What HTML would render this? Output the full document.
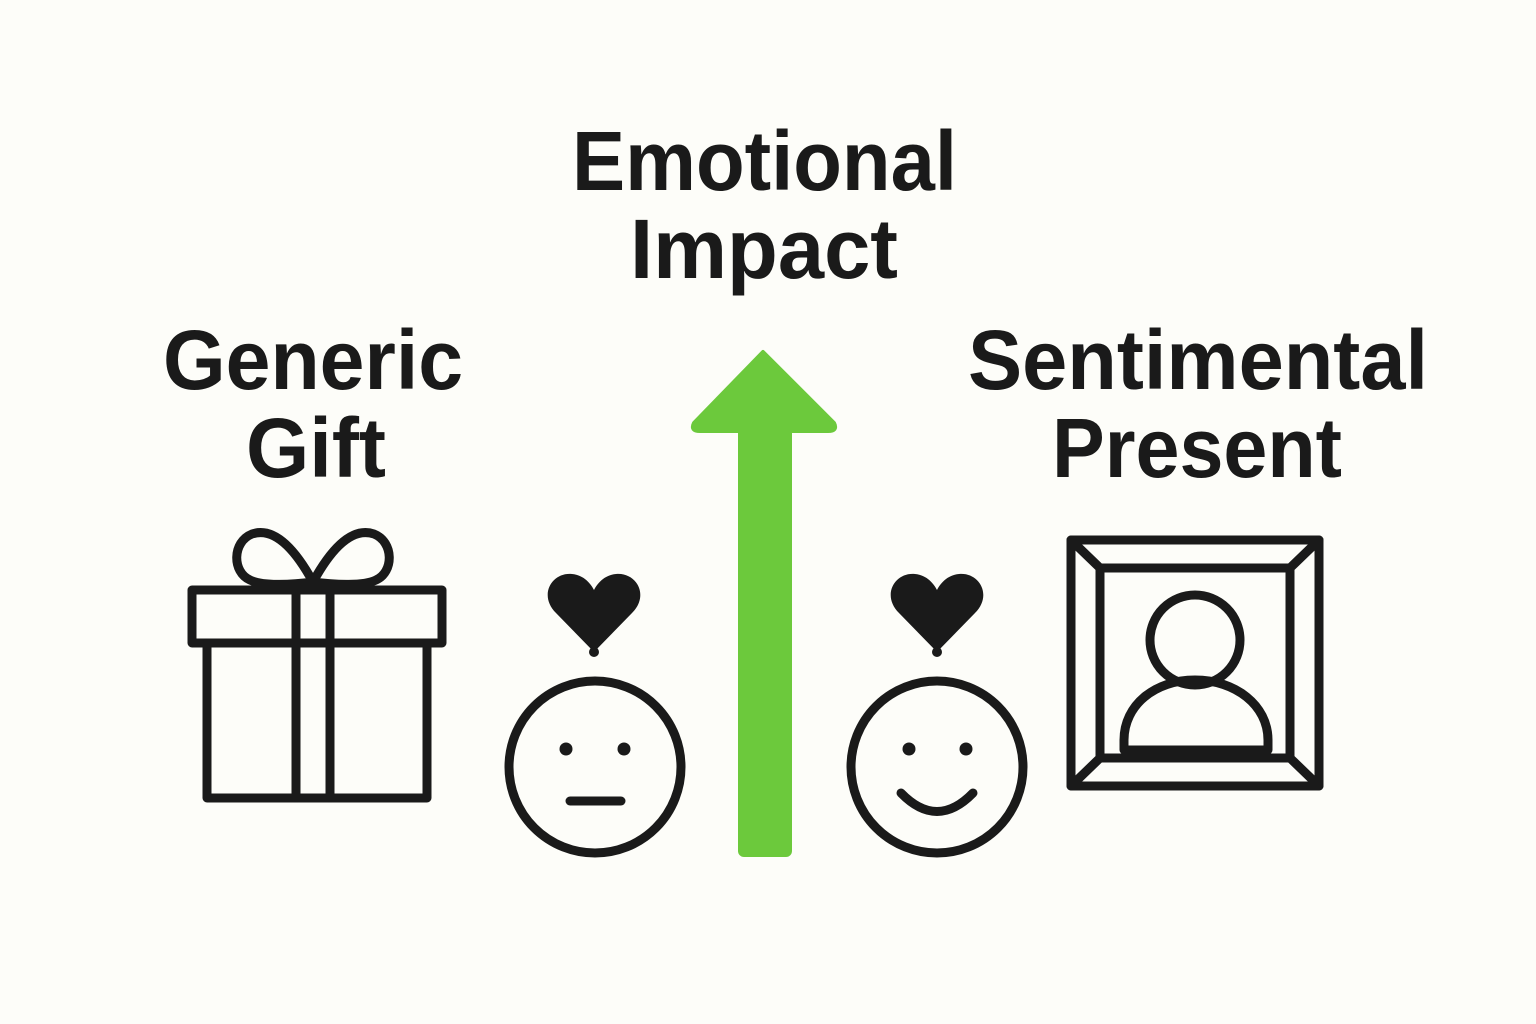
<!DOCTYPE html>
<html><head><meta charset="utf-8"><style>
html,body{margin:0;padding:0;background:#fdfdf9;}
svg{display:block;}
text{font-family:"Liberation Sans",sans-serif;font-weight:bold;fill:#1a1a1a;}
</style></head><body>
<svg width="1536" height="1024" viewBox="0 0 1536 1024" xmlns="http://www.w3.org/2000/svg">
<rect width="1536" height="1024" fill="#fdfdf9"/>
<g font-size="84">
<text x="572" y="190" textLength="385" lengthAdjust="spacingAndGlyphs">Emotional</text>
<text x="630" y="278" textLength="268" lengthAdjust="spacingAndGlyphs">Impact</text>
<text x="163" y="389" textLength="300" lengthAdjust="spacingAndGlyphs">Generic</text>
<text x="246" y="477" textLength="140" lengthAdjust="spacingAndGlyphs">Gift</text>
<text x="968" y="389" textLength="460" lengthAdjust="spacingAndGlyphs">Sentimental</text>
<text x="1052" y="477" textLength="290" lengthAdjust="spacingAndGlyphs">Present</text>
</g>
<!-- arrow -->
<rect x="738" y="420" width="54" height="437" rx="6" fill="#6cc93c"/>
<path d="M763 352 L834 423 Q838 431 828 431 L700 431 Q690 431 694 423 Z" fill="#6cc93c" stroke="#6cc93c" stroke-width="4" stroke-linejoin="round"/>
<g fill="none" stroke="#1a1a1a" stroke-width="9" stroke-linejoin="round" stroke-linecap="round">
<!-- gift -->
<rect x="192" y="590" width="250" height="53"/>
<rect x="207" y="643" width="220" height="155"/>
<line x1="296" y1="590" x2="296" y2="798"/>
<line x1="330" y1="590" x2="330" y2="798"/>
<path d="M313 582 C290 540 270 528 252 534 C232 542 232 572 250 580 C262 586 290 585 313 582 C336 585 364 586 376 580 C394 572 394 542 374 534 C356 528 336 540 313 582 Z"/>
<!-- faces -->
<circle cx="595" cy="767" r="86"/>
<circle cx="937" cy="767" r="86"/>
<line x1="570" y1="801" x2="621" y2="801"/>
<path d="M901 793 Q937 830 973 793"/>
<!-- frame -->
<rect x="1071" y="540" width="248" height="246"/>
<rect x="1100" y="568" width="190" height="190"/>
<line x1="1071" y1="540" x2="1100" y2="568"/>
<line x1="1319" y1="540" x2="1290" y2="568"/>
<line x1="1071" y1="786" x2="1100" y2="758"/>
<line x1="1319" y1="786" x2="1290" y2="758"/>
<circle cx="1195" cy="640" r="45"/>
<path d="M1124 750 L1124 740 C1124 705 1155 680 1195 680 C1235 680 1268 705 1268 740 L1268 750 Z"/>
</g>
<g fill="#1a1a1a">
<circle cx="594" cy="652" r="5"/>
<circle cx="937" cy="652" r="5"/>
<path d="M594 652 L556 613 C538 595 552 572 572 574 C584 575 591 584 594 590 C597 584 604 575 616 574 C636 572 650 595 632 613 Z"/>
<path d="M937 652 L899 613 C881 595 895 572 915 574 C927 575 934 584 937 590 C940 584 947 575 959 574 C979 572 993 595 975 613 Z"/>
<circle cx="566" cy="749" r="6.5"/><circle cx="624" cy="749" r="6.5"/>
<circle cx="909" cy="749" r="6.5"/><circle cx="966" cy="749" r="6.5"/>
</g>
</svg>
</body></html>
